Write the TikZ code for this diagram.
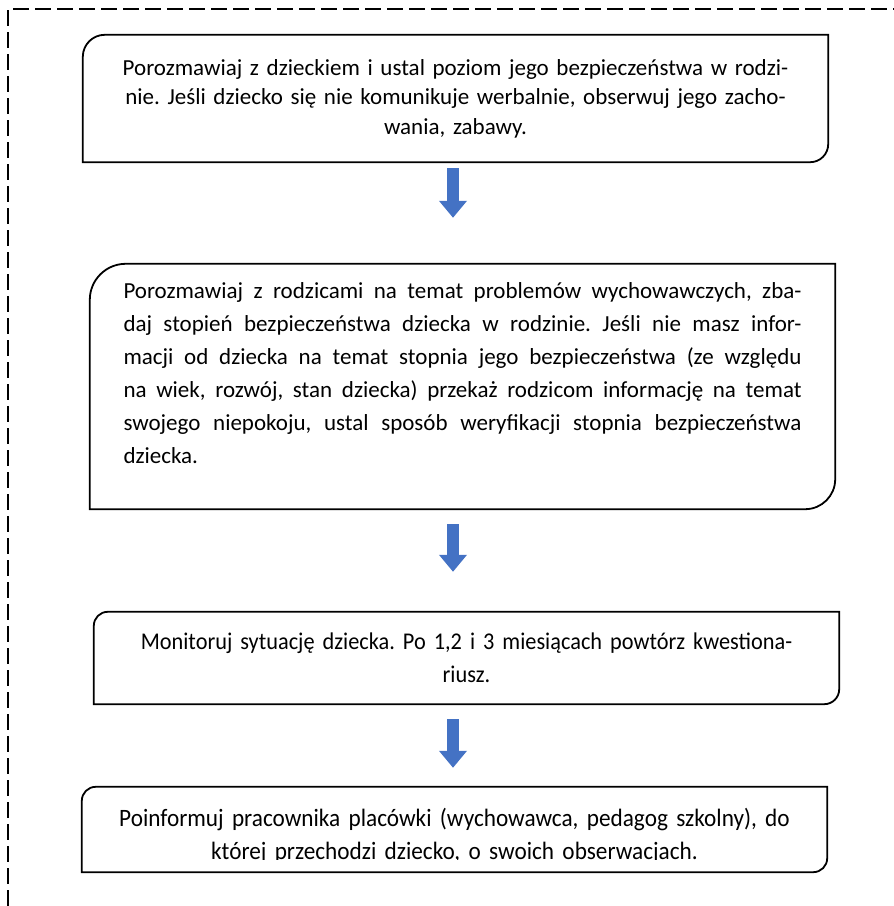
\documentclass[tikz,border=0pt]{standalone}
\usepackage{fontspec}
\setmainfont{Carlito}
\newfontfamily\tallfont{Carlito}[FakeStretch=0.93]
\usetikzlibrary{arrows.meta}
\definecolor{flowblue}{RGB}{68,114,196}
\frenchspacing
\newcommand{\stepframe}[3]{%
  \draw[frameline] (#1.south west) -- ([yshift=-#2]#1.north west)
    arc[start angle=180,end angle=90,radius=#2] -- (#1.north east)
    -- ([yshift=#3]#1.south east) arc[start angle=0,end angle=-90,radius=#3] -- cycle;}

\begin{document}
\begin{tikzpicture}[x=1pt,y=1pt,
  stepbox/.style={inner sep=0pt,minimum width=745pt,text width=720pt,align=center,
    font=\fontsize{23}{29.5}\selectfont},
  tallbox/.style={stepbox,font=\tallfont\fontsize{24}{32.5}\selectfont},
  frameline/.style={line width=1.8pt,black},
  flow/.style={line width=12pt,flowblue,-{Triangle[width=27pt,length=17pt]}}]
  \useasboundingbox (0,0) rectangle (894,906);
  \draw[line width=1.5pt,dash pattern=on 16pt off 6pt] (8,0) -- (8,897) -- (894,897);
  \coordinate (axis) at (453,0);

  \node[stepbox,minimum height=127pt] (b1) at (455.5,807.5)
    {Porozmawiaj z dzieckiem i ustal poziom jego bezpieczeństwa w rodzi-\\
     nie. Jeśli dziecko się nie komunikuje werbalnie, obserwuj jego zacho-\\
     wania, zabawy.};
  \node[stepbox,minimum height=245pt,text width=678pt,align=justify,
    font=\fontsize{23}{33}\selectfont] (b2) at (462.5,519.5)
    {Porozmawiaj z rodzicami na temat problemów wychowawczych, zba-\linebreak
     daj stopień bezpieczeństwa dziecka w rodzinie. Jeśli nie masz infor-\linebreak
     macji od dziecka na temat stopnia jego bezpieczeństwa (ze względu\linebreak
     na wiek, rozwój, stan dziecka) przekaż rodzicom informację na temat\linebreak
     swojego niepokoju, ustal sposób weryfikacji stopnia bezpieczeństwa\linebreak
     dziecka.\rule[-27pt]{0pt}{27pt}};
  \node[tallbox,minimum height=92pt] (b3) at (466.5,248)
    {Monitoruj sytuację dziecka. Po 1,2 i 3 miesiącach powtórz kwestiona-\\
     riusz.};
  \begin{scope}
    \clip (0,46) rectangle (894,906);
    \node[tallbox,minimum height=85pt,font=\tallfont\fontsize{25}{33}\selectfont] (b4) at (454.5,76.5)
      {\rule{0pt}{32pt}Poinformuj pracownika placówki (wychowawca, pedagog szkolny), do\\
       której przechodzi dziecko, o swoich obserwacjach.};
  \end{scope}

  \stepframe{b1}{22pt}{18pt}
  \stepframe{b2}{36pt}{30pt}
  \stepframe{b3}{14pt}{15pt}
  \stepframe{b4}{14pt}{14pt}

  \draw[flow,shorten <=6pt,shorten >=46pt] (b1.south -| axis) -- (b2.north -| axis);
  \draw[flow,shorten <=15pt,shorten >=40pt] (b2.south -| axis) -- (b3.north -| axis);
  \draw[flow,shorten <=15pt,shorten >=19pt] (b3.south -| axis) -- (b4.north -| axis);

\end{tikzpicture}
\end{document}
